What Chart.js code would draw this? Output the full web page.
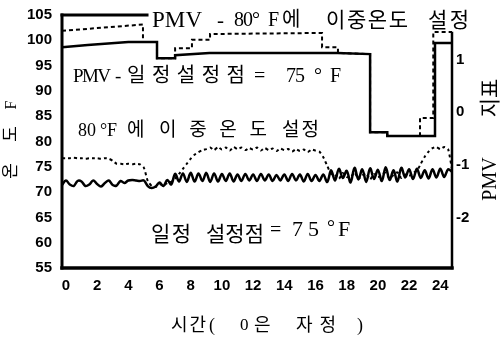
<!DOCTYPE html>
<html>
<head>
<meta charset="utf-8">
<script src="https://cdn.jsdelivr.net/npm/chart.js@4/dist/chart.umd.min.js"></script>
<style>
  html, body { margin: 0; padding: 0; background: #fff; }
  #marco { width: 501px; height: 338px; }
</style>
</head>
<body>
<div id="marco"><canvas id="grafica"></canvas></div>
<script>
// --- datos ---
const xTicks = [0, 2, 4, 6, 8, 10, 12, 14, 16, 18, 20, 22, 24];
const tempTicks = [55, 60, 65, 70, 75, 80, 85, 90, 95, 100, 105];
const pmvTicks = [-2, -1, 0, 1];

// PMV - 일정설정점 = 75°F (escalones, eje derecho)
const pmvFijoHoras = [-0.25, 1.4, 4.0, 5.84, 5.84, 7.0, 7.0, 9.2, 17.4, 19.5, 19.5, 20.6, 20.6, 23.66, 23.66, 24.75];
const pmvFijo = [1.23, 1.27, 1.33, 1.33, 1.02, 1.02, 1.08, 1.12, 1.12, 1.10, -0.38, -0.38, -0.45, -0.45, 1.31, 1.31];

// PMV - 80°F에 이중온도 설정 (escalones, eje derecho)
const pmvDobleHoras = [-0.25, 4.94, 4.94, 5.84, 5.84, 7.0, 7.0, 8.08, 8.08, 9.24, 9.24, 16.42, 16.42, 17.44, 17.44, 19.5, 19.5, 20.6, 20.6, 22.7, 22.7, 23.55, 23.55, 24.75];
const pmvDoble = [1.54, 1.66, 1.33, 1.33, 1.02, 1.02, 1.21, 1.21, 1.37, 1.37, 1.48, 1.50, 1.23, 1.23, 1.12, 1.10, -0.38, -0.38, -0.45, -0.45, -0.11, -0.11, 1.52, 1.52];

// temperaturas (eje izquierdo), cada 15 min
const tempHoras = [-0.25,
  0, 0.25, 0.5, 0.75,  1, 1.25, 1.5, 1.75,  2, 2.25, 2.5, 2.75,  3, 3.25, 3.5, 3.75,
  4, 4.25, 4.5, 4.75,  5, 5.25, 5.5, 5.75,  6, 6.25, 6.5, 6.75,  7, 7.25, 7.5, 7.75,
  8, 8.25, 8.5, 8.75,  9, 9.25, 9.5, 9.75,  10, 10.25, 10.5, 10.75,  11, 11.25, 11.5, 11.75,
  12, 12.25, 12.5, 12.75,  13, 13.25, 13.5, 13.75,  14, 14.25, 14.5, 14.75,  15, 15.25, 15.5, 15.75,
  16, 16.25, 16.5, 16.75,  17, 17.25, 17.5, 17.75,  18, 18.25, 18.5, 18.75,  19, 19.25, 19.5, 19.75,
  20, 20.25, 20.5, 20.75,  21, 21.25, 21.5, 21.75,  22, 22.25, 22.5, 22.75,  23, 23.25, 23.5, 23.75,
  24, 24.25, 24.5, 24.75];

// 일정 설정점 = 75°F
const tempFijo = [71.4,
  72.3, 71.5, 71.2, 72.2,  72.1, 71.2, 71.5, 72.3,  71.6, 71.1, 71.8, 72.3,  71.4, 71.3, 72.2, 71.8,
  72.3, 72.4, 72.3, 72.2,  72.3, 71.2, 70.8, 71.1,  71.9, 71.2, 72.4, 71.5,  73.6, 72.1, 73.7, 72.0,
  73.8, 72.1, 73.7, 72.2,  73.8, 72.0, 73.7, 72.1,  73.6, 72.2, 73.7, 72.1,  73.5, 72.2, 73.6, 72.3,
  73.5, 72.2, 73.6, 72.3,  73.5, 72.2, 73.4, 72.3,  73.5, 72.2, 73.6, 72.3,  73.5, 72.1, 73.6, 72.2,
  73.4, 72.2, 73.5, 72.0,  74.3, 72.3, 74.6, 72.8,  74.2, 71.9, 74.8, 72.5,  74.5, 72.0, 74.7, 72.6,
  74.4, 72.2, 74.9, 72.4,  74.3, 72.1, 74.8, 72.9,  74.5, 72.6, 74.6, 72.8,  74.3, 72.7, 74.5, 72.9,
  74.6, 73.0, 74.5, 74.0];

// 80°F에 이중온도 설정
const tempDoble = [76.7,
  76.7, 76.7, 76.8, 76.7,  76.7, 76.6, 76.7, 76.7,  76.7, 76.6, 76.7, 76.6,  76.2, 75.6, 75.6, 75.5,
  75.6, 75.5, 75.6, 75.5,  74.8, 72.2, 71.2, 71.0,  71.6, 71.3, 71.8, 72.0,  72.7, 73.6, 74.6, 75.6,
  76.6, 77.4, 77.9, 78.3,  78.5, 78.8, 78.3, 78.9,  78.4, 78.8, 78.2, 78.9,  78.5, 78.8, 78.3, 78.7,
  78.4, 78.8, 78.2, 78.7,  78.3, 78.6, 78.1, 78.6,  78.3, 78.5, 78.0, 78.5,  78.1, 78.4, 77.9, 78.4,
  78.2, 78.0, 76.9, 75.2,  73.6, 73.4, 72.6, 73.8,  73.0, 72.9, 73.9, 72.6,  73.3, 73.7, 72.5, 73.6,
  72.9, 73.5, 73.8, 72.7,  73.4, 73.9, 72.8, 73.5,  73.2, 73.8, 74.2, 75.6,  77.0, 78.0, 78.7, 78.9,
  78.5, 78.9, 78.5, 74.5];

const puntos = (xs, ys) => xs.map((x, i) => ({ x: x, y: ys[i] }));

const fuenteTicks = { family: '"Liberation Sans", Arial, sans-serif', size: 15, weight: 'bold' };
const serifKr = '"Liberation Serif", "Noto Sans CJK KR", serif';

// trozos de texto de las anotaciones: [texto, x izq., y centro, ancho (0 = natural), tamaño]
const textos = [
    // PMV - 80°F에 이중온도 설정
    ['PMV', 152, 21, 50, 23], ['-', 217, 21, 0, 21], ['80°', 234, 21, 26, 20],
    ['F', 268, 21, 0, 20], ['에', 282, 21, 0, 20], ['이중온도', 326, 21, 82, 21], ['설정', 428, 21, 41, 21],
    // PMV -일정설정점 = 75 °F
    ['PMV', 73, 77, 38, 19], ['-', 115, 77, 0, 19], ['일정설정점', 127, 77, 118, 20],
    ['=', 254, 77, 0, 20], ['75', 286, 77, 19, 20], ['°', 314, 77, 0, 20], ['F', 330, 77, 0, 20],
    // 80 °F에 이중온도 설정
    ['80', 78, 131, 18, 18], ['°', 100, 131, 0, 18], ['F', 107, 131, 0, 18], ['에', 127, 131, 0, 19],
    ['이중온도', 159, 131, 108, 19], ['설정', 282, 131, 37, 19],
    // 일정 설정점 = 75 °F
    ['일정', 151, 235, 40, 21], ['설정점', 206, 235, 58, 21], ['=', 270, 231, 0, 20],
    ['75', 292, 230, 27, 22], ['°', 327, 229, 0, 20], ['F', 338, 230, 0, 22],
    // 시간( 0은 자정 )
    ['시간', 171, 326, 35, 18], ['(', 209, 326, 0, 18], ['0', 240, 326, 0, 17],
    ['은', 254, 326, 0, 18], ['자정', 296, 326, 40, 18], [')', 357, 326, 0, 18]
];

// texto ajustado a un ancho con letterSpacing
function textoAjustado(ctx, texto, x, y, ancho, fuente) {
    ctx.font = fuente;
    ctx.letterSpacing = '0px';
    ctx.textAlign = 'left';
    ctx.textBaseline = 'middle';
    const n = [...texto].length;
    if (ancho > 0 && n > 1) {
        const w = ctx.measureText(texto).width;
        ctx.letterSpacing = ((ancho - w) / (n - 1)).toFixed(2) + 'px';
    }
    ctx.fillText(texto, x, y);
    ctx.letterSpacing = '0px';
}

// texto girado 90° (se lee de abajo hacia arriba), centrado en (cx, cy)
function textoVertical(ctx, texto, cx, cy, fuente) {
    ctx.save();
    ctx.translate(cx, cy);
    ctx.rotate(-Math.PI / 2);
    ctx.font = fuente;
    ctx.textAlign = 'center';
    ctx.textBaseline = 'middle';
    ctx.fillText(texto, 0, 0);
    ctx.restore();
}

const marcoYTextos = {
    id: 'marcoYTextos',
    afterDraw(chart) {
        const ctx = chart.ctx;
        const a = chart.chartArea;
        const sx = chart.scales.x;
        ctx.save();
        ctx.strokeStyle = '#000';
        ctx.lineCap = 'square';
        // eje izquierdo
        ctx.lineWidth = 3;
        ctx.beginPath(); ctx.moveTo(a.left, a.top); ctx.lineTo(a.left, a.bottom); ctx.stroke();
        // eje inferior
        ctx.lineWidth = 3.5;
        ctx.beginPath(); ctx.moveTo(a.left, a.bottom); ctx.lineTo(a.right, a.bottom); ctx.stroke();
        // eje derecho (empieza debajo del título)
        ctx.lineWidth = 2.5;
        ctx.beginPath(); ctx.moveTo(a.right, a.top + 18); ctx.lineTo(a.right, a.bottom); ctx.stroke();
        // borde superior, interrumpido por el texto
        ctx.lineWidth = 3;
        ctx.beginPath(); ctx.moveTo(a.left, a.top); ctx.lineTo(sx.getPixelForValue(5.2), a.top); ctx.stroke();

        ctx.fillStyle = '#000';
        textos.forEach(t => textoAjustado(ctx, t[0], t[1], t[2], t[3], t[4] + 'px ' + serifKr));

        // títulos de los ejes verticales
        textoVertical(ctx, 'F', 12, 105, '16px ' + serifKr);
        textoVertical(ctx, '도', 12, 134, '17px ' + serifKr);
        textoVertical(ctx, '온', 12, 171, '17px ' + serifKr);
        textoVertical(ctx, '지표', 491, 98, '21px ' + serifKr);
        textoVertical(ctx, 'PMV', 491, 179, '20px ' + serifKr);

        ctx.restore();
    }
};

function inicializarGrafica() {
    const ctx = document.getElementById('grafica').getContext('2d');
    new Chart(ctx, {
        type: 'line',
        data: {
            datasets: [
                {
                    label: 'PMV - 일정설정점 = 75°F',
                    data: puntos(pmvFijoHoras, pmvFijo),
                    yAxisID: 'yP',
                    borderColor: '#000',
                    borderWidth: 2.5,
                    tension: 0
                },
                {
                    label: 'PMV - 80°F에 이중온도 설정',
                    data: puntos(pmvDobleHoras, pmvDoble),
                    yAxisID: 'yP',
                    borderColor: '#000',
                    borderWidth: 2,
                    borderDash: [4, 3],
                    tension: 0
                },
                {
                    label: '80°F에 이중온도 설정',
                    data: puntos(tempHoras, tempDoble),
                    yAxisID: 'yT',
                    borderColor: '#000',
                    borderWidth: 2,
                    borderDash: [3, 3],
                    tension: 0.2
                },
                {
                    label: '일정 설정점 = 75°F',
                    data: puntos(tempHoras, tempFijo),
                    yAxisID: 'yT',
                    borderColor: '#000',
                    borderWidth: 2.5,
                    tension: 0.35
                }
            ]
        },
        options: {
            responsive: true,
            maintainAspectRatio: false,
            animation: false,
            layout: { padding: { top: 15, left: 0, right: 0, bottom: 0 } },
            elements: { point: { radius: 0 } },
            plugins: {
                legend: { display: false },
                tooltip: { enabled: false }
            },
            scales: {
                x: {
                    type: 'linear',
                    min: -0.25,
                    max: 24.75,
                    grid: { display: false, drawTicks: false },
                    border: { display: false },
                    ticks: { font: fuenteTicks, color: '#000', padding: 9, maxRotation: 0, autoSkip: false },
                    afterBuildTicks: s => { s.ticks = xTicks.map(v => ({ value: v })); },
                    afterFit: s => { s.height = 70; s.paddingLeft = 0; s.paddingRight = 0; }
                },
                yT: {
                    position: 'left',
                    min: 55,
                    max: 105,
                    grid: { display: false, drawTicks: false },
                    border: { display: false },
                    ticks: { font: fuenteTicks, color: '#000', padding: 10, autoSkip: false },
                    afterBuildTicks: s => { s.ticks = tempTicks.map(v => ({ value: v })); },
                    afterFit: s => { s.width = 62; s.paddingTop = 0; s.paddingBottom = 0; }
                },
                yP: {
                    position: 'right',
                    min: -2.95,
                    max: 1.84,
                    grid: { display: false, drawTicks: false },
                    border: { display: false },
                    ticks: { font: fuenteTicks, color: '#000', padding: 4, autoSkip: false },
                    afterBuildTicks: s => { s.ticks = pmvTicks.map(v => ({ value: v })); },
                    afterFit: s => { s.width = 49; s.paddingTop = 0; s.paddingBottom = 0; }
                }
            }
        },
        plugins: [marcoYTextos]
    });
}

document.addEventListener('DOMContentLoaded', function() {
    inicializarGrafica();
});
</script>
</body>
</html>
